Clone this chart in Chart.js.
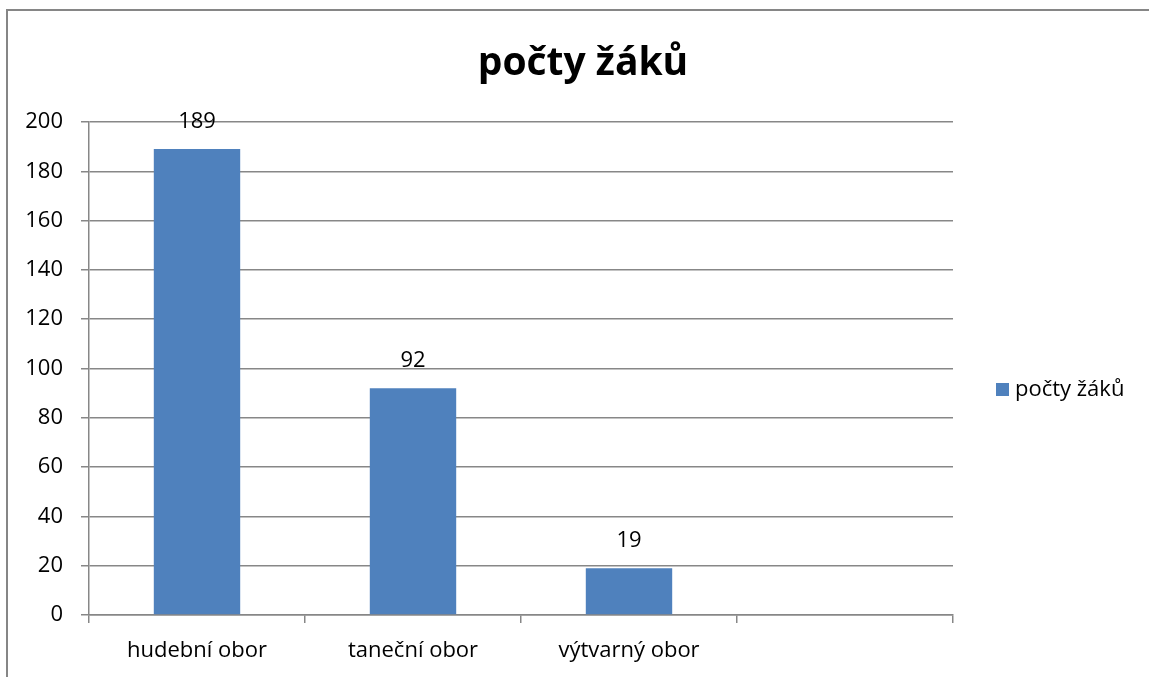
<!DOCTYPE html>
<html>
<head>
<meta charset="utf-8">
<script src="https://cdn.jsdelivr.net/npm/chart.js@4"></script>
<style>
  html, body { margin: 0; padding: 0; background: #fff; }
  #wrap { position: relative; width: 1149px; height: 677px; overflow: hidden; font-family: "Open Sans", sans-serif; }
  #frame { position: absolute; left: 6px; top: 9px; width: 1200px; height: 700px; border-left: 2px solid #868686; border-top: 2px solid #868686; }
  #title { position: absolute; left: 383px; width: 400px; top: 35px; text-align: center; font-size: 39px; font-weight: bold; color: #000; line-height: 50px; }
  #legend { position: absolute; left: 996px; top: 372px; font-size: 22px; line-height: 30px; color: #000; white-space: nowrap; }
  #legend span.box { display: inline-block; width: 13px; height: 13px; background: #4f81bd; margin-right: 6px; vertical-align: 0px; }
  canvas { position: absolute; left: 0; top: 0; }
</style>
</head>
<body>
<div id="wrap">
  <div id="frame"></div>
  <canvas id="chart" width="1149" height="677"></canvas>
  <div id="title">počty žáků</div>
  <div id="legend"><span class="box"></span>počty žáků</div>
</div>
<script>
// data
const categories = ['hudební obor', 'taneční obor', 'výtvarný obor', ''];
const seriesName = 'počty žáků';
const pocty = [189, 92, 19, null];
const yTicks = [0, 20, 40, 60, 80, 100, 120, 140, 160, 180, 200];

const BAR_COLOR = '#4f81bd';
const GRID_COLOR = '#878787';
const FONT = '"Open Sans", sans-serif';
const FONT_SIZE = 22;

// hodnoty nad sloupci
const valueLabels = {
  id: 'valueLabels',
  afterDatasetsDraw(chart) {
    const ctx = chart.ctx;
    const meta = chart.getDatasetMeta(0);
    ctx.save();
    ctx.font = FONT_SIZE + 'px ' + FONT;
    ctx.fillStyle = '#000';
    ctx.textAlign = 'center';
    ctx.textBaseline = 'middle';
    meta.data.forEach((bar, i) => {
      const v = pocty[i];
      if (v === null) return;
      ctx.fillText(String(v), bar.x, bar.y - 27);
    });
    ctx.restore();
  }
};

new Chart(document.getElementById('chart').getContext('2d'), {
  type: 'bar',
  data: {
    labels: categories,
    datasets: [{
      label: seriesName,
      data: pocty,
      backgroundColor: BAR_COLOR,
      borderWidth: 0,
      categoryPercentage: 1,
      barPercentage: 0.4
    }]
  },
  options: {
    responsive: false,
    animation: false,
    layout: { padding: { left: 0, right: 196, top: 122, bottom: 0 } },
    plugins: {
      legend: { display: false },
      title: { display: false },
      tooltip: { enabled: false }
    },
    scales: {
      x: {
        offset: true,
        grid: {
          display: true,
          drawOnChartArea: false,
          offset: true,
          color: GRID_COLOR,
          lineWidth: 1.5,
          tickLength: 8
        },
        border: { display: true, color: GRID_COLOR, width: 1.5 },
        ticks: { color: '#000', font: { family: FONT, size: FONT_SIZE }, padding: 15 },
        afterFit(scale) { scale.height = 62; }
      },
      y: {
        min: 0,
        max: 200,
        afterBuildTicks(scale) { scale.ticks = yTicks.map(v => ({ value: v })); },
        grid: {
          color: GRID_COLOR,
          lineWidth: 1.5,
          tickLength: 8
        },
        border: { display: true, color: GRID_COLOR, width: 1.5 },
        ticks: { color: '#000', font: { family: FONT, size: FONT_SIZE }, padding: 18 },
        afterFit(scale) { scale.width = 89; }
      }
    }
  },
  plugins: [valueLabels]
});
</script>
</body>
</html>
